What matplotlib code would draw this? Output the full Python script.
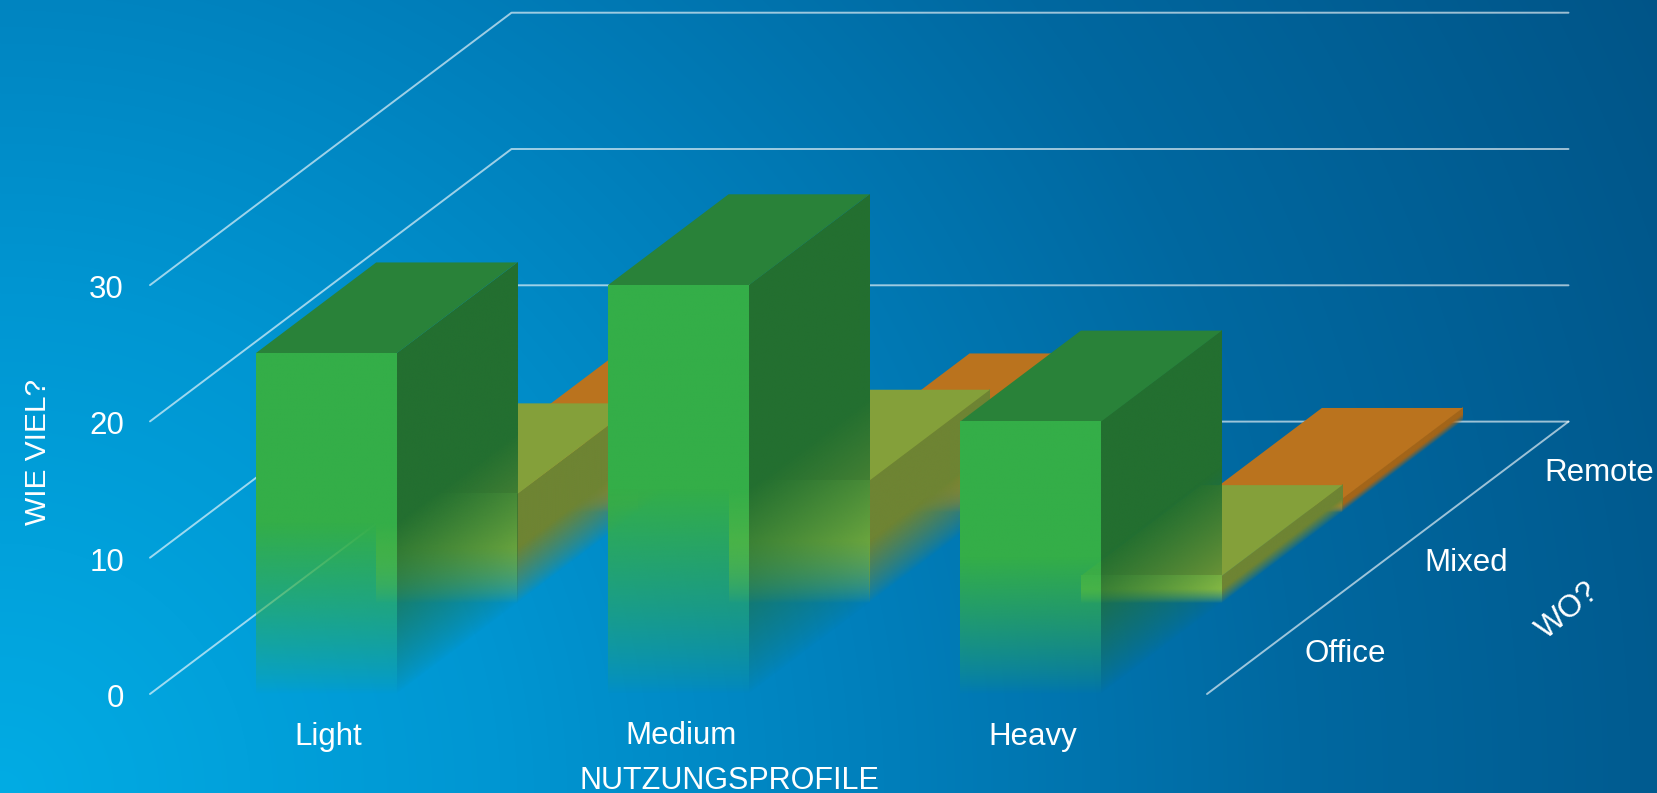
import numpy as np
import matplotlib
matplotlib.use("Agg")
import matplotlib.pyplot as plt
from matplotlib.patches import Polygon
from matplotlib.transforms import Affine2D

plt.rcParams['font.family'] = ['Liberation Sans', 'DejaVu Sans']

# Chart values
categories = ['Light', 'Medium', 'Heavy']
series_names = ['Office', 'Mixed', 'Remote']
office = [25, 30, 20]
mixed = [8, 9, 2]
remote = [5, 5, 1]
value_ticks = [0, 10, 20, 30]

# Face colours per series: front, top, side
office_colors = ['#34AE48', '#298239', '#236F30']
mixed_colors = ['#96C648', '#84A03A', '#6E8433']
remote_colors = ['#E88C28', '#BA731E', '#A36519']

# Oblique projection of the 3D chart box onto the figure, in pixels
W, H = 1657, 793
ORIGIN = np.array([150.0, 694.0])
X_SPAN = 1057.0
DEPTH_VEC = np.array([361.5, -272.4])
UNIT = 13.63
BAR_FRACTION = 0.4
FADE_FRACTION = 0.5
FADE_GAMMA = 0.8


def project(cat, depth, value):
    """Category position (0..n), depth (0..n series), value -> figure pixels."""
    return (ORIGIN
            + np.array([cat * X_SPAN / len(categories), 0.0])
            + depth / len(series_names) * DEPTH_VEC
            + np.array([0.0, -value * UNIT]))


fig = plt.figure(figsize=(W / 100, H / 100), dpi=100)
ax = fig.add_axes([0, 0, 1, 1])
ax.set_xlim(0, W)
ax.set_ylim(H, 0)
ax.autoscale(False)
ax.axis('off')

# Radial backdrop centred on the lower left corner
yy, xx = np.mgrid[0:H, 0:W]
radius = np.hypot(xx, yy - H)
stops = [0, 500, 900, 1300, 1850]
red = np.interp(radius, stops, [2, 0, 0, 0, 0])
green = np.interp(radius, stops, [172, 150, 126, 104, 84])
blue = np.interp(radius, stops, [228, 210, 186, 160, 135])
ax.imshow(np.dstack([red, green, blue]).astype(np.uint8),
          extent=(0, W, H, 0), aspect='auto', zorder=0)

# Gridlines on the left wall, back wall and right floor edge
grid_style = dict(color='#FFFFFF', alpha=0.62, lw=1.4, solid_capstyle='round', zorder=1)
n_cat, n_ser = len(categories), len(series_names)
for v in value_ticks:
    pts = np.array([project(0, 0, v), project(0, n_ser, v), project(n_cat, n_ser, v)])
    ax.plot(pts[:, 0], pts[:, 1], **grid_style)
edge = np.array([project(n_cat, 0, 0), project(n_cat, n_ser, 0)])
ax.plot(edge[:, 0], edge[:, 1], **grid_style)

z_counter = [2]


def next_z():
    z_counter[0] += 1
    return z_counter[0]


def faded_face(origin, u, v, color, frac_start):
    """Parallelogram origin, origin+u, origin+v with alpha rising along v."""
    rows, cols = 600, 80
    ramp = np.clip(np.linspace(0, 1, rows) / frac_start, 0, 1) ** FADE_GAMMA
    rgba = np.ones((rows, cols, 4))
    rgba[..., :3] = matplotlib.colors.to_rgb(color)
    rgba[..., 3] = ramp[:, None]
    mat = np.array([[u[0], v[0], origin[0]],
                    [u[1], v[1], origin[1]],
                    [0, 0, 1]])
    tr = Affine2D(mat) + ax.transData
    ax.imshow(rgba, extent=(0, 1, 0, 1), origin='lower', aspect='auto',
              interpolation='bilinear', transform=tr, zorder=next_z())


def draw_bar(cat_index, depth_index, value, colors):
    front_c, top_c, side_c = colors
    left = cat_index + 0.5 - BAR_FRACTION / 2
    right = cat_index + 0.5 + BAR_FRACTION / 2
    d0, d1 = depth_index, depth_index + 1
    fl0 = project(left, d0, 0)
    fr0 = project(right, d0, 0)
    br0 = project(right, d1, 0)
    up = project(left, d0, value) - fl0
    # Right side
    faded_face(fr0, br0 - fr0, up, side_c, FADE_FRACTION)
    # Top
    top = [project(left, d0, value), project(right, d0, value),
           project(right, d1, value), project(left, d1, value)]
    ax.add_patch(Polygon(top, closed=True, facecolor=top_c, edgecolor='none',
                         zorder=next_z()))
    # Front
    faded_face(fl0, fr0 - fl0, up, front_c, FADE_FRACTION)


# Painted from the rear row forwards so the fades reveal what stands behind
for depth, values, colors in [(2, remote, remote_colors),
                              (1, mixed, mixed_colors),
                              (0, office, office_colors)]:
    for i, val in enumerate(values):
        draw_bar(i, depth, val, colors)

# Texts
text_style = dict(color='white', fontsize=22.5, ha='center', va='center', zorder=500)
for v in value_ticks:
    ax.text(project(0, 0, v)[0] - 26, project(0, 0, v)[1] + 5, str(v),
            **{**text_style, 'ha': 'right'})
for i, name in enumerate(categories):
    p = project(i + 0.5, 0, 0)
    ax.text(p[0] + 2, p[1] + 42.5, name, **text_style)
for s, name, off, lift in zip(range(n_ser), series_names, [78, 78, 91], [5, 5, 6]):
    p = project(n_cat, s + 0.5, 0)
    ax.text(p[0] + off, p[1] + lift, name, **text_style)

ax.text(729, 781, 'NUTZUNGSPROFILE', **{**text_style, 'fontsize': 22})
ax.text(38, 452, 'WIE VIEL?', rotation=90, **{**text_style, 'fontsize': 21.5})
ax.text(1568, 611, 'WO?', rotation=40, rotation_mode='anchor', **text_style)

fig.savefig('out.png', dpi=100)
